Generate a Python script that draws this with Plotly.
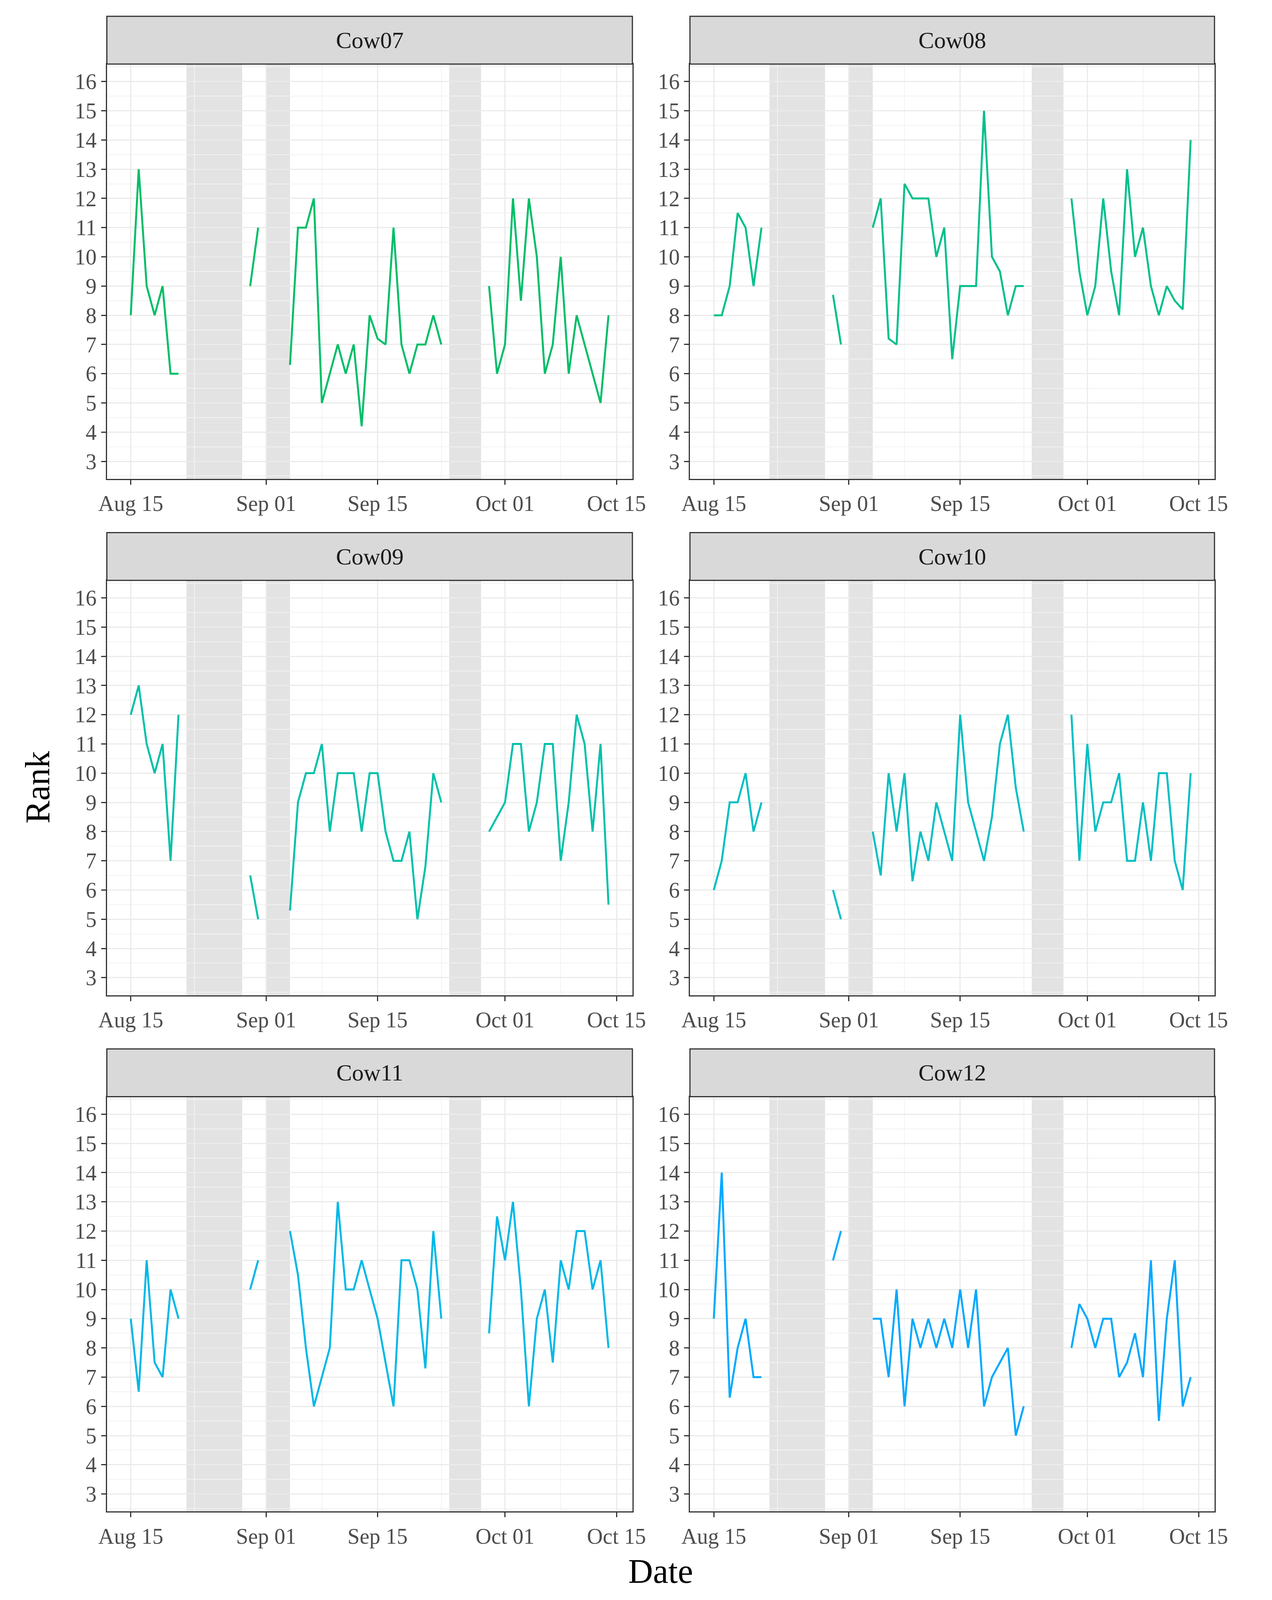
import plotly.graph_objects as go
import datetime as dt

cows = ["Cow07", "Cow08", "Cow09", "Cow10", "Cow11", "Cow12"]
colors = ["#00BE67", "#00C08B", "#00C1AA", "#00BFC4", "#00B8E7", "#00A9FF"]
start = dt.date(2021, 8, 15)
seg_days = [list(range(0, 7)), [15, 16], list(range(20, 40)), list(range(45, 61))]

cow07 = [[8, 13, 9, 8, 9, 6, 6], [9, 11],
         [6.3, 11, 11, 12, 5, 6, 7, 6, 7, 4.2, 8, 7.2, 7, 11, 7, 6, 7, 7, 8, 7],
         [9, 6, 7, 12, 8.5, 12, 10, 6, 7, 10, 6, 8, 7, 6, 5, 8]]
cow08 = [[8, 8, 9, 11.5, 11, 9, 11], [8.7, 7],
         [11, 12, 7.2, 7, 12.5, 12, 12, 12, 10, 11, 6.5, 9, 9, 9, 15, 10, 9.5, 8, 9, 9],
         [12, 9.5, 8, 9, 12, 9.5, 8, 13, 10, 11, 9, 8, 9, 8.5, 8.2, 14]]
cow09 = [[12, 13, 11, 10, 11, 7, 12], [6.5, 5],
         [5.3, 9, 10, 10, 11, 8, 10, 10, 10, 8, 10, 10, 8, 7, 7, 8, 5, 6.8, 10, 9],
         [8, 8.5, 9, 11, 11, 8, 9, 11, 11, 7, 9, 12, 11, 8, 11, 5.5]]
cow10 = [[6, 7, 9, 9, 10, 8, 9], [6, 5],
         [8, 6.5, 10, 8, 10, 6.3, 8, 7, 9, 8, 7, 12, 9, 8, 7, 8.5, 11, 12, 9.5, 8],
         [12, 7, 11, 8, 9, 9, 10, 7, 7, 9, 7, 10, 10, 7, 6, 10]]
cow11 = [[9, 6.5, 11, 7.5, 7, 10, 9], [10, 11],
         [12, 10.5, 8, 6, 7, 8, 13, 10, 10, 11, 10, 9, 7.5, 6, 11, 11, 10, 7.3, 12, 9],
         [8.5, 12.5, 11, 13, 10, 6, 9, 10, 7.5, 11, 10, 12, 12, 10, 11, 8]]
cow12 = [[9, 14, 6.3, 8, 9, 7, 7], [11, 12],
         [9, 9, 7, 10, 6, 9, 8, 9, 8, 9, 8, 10, 8, 10, 6, 7, 7.5, 8, 5, 6],
         [8, 9.5, 9, 8, 9, 9, 7, 7.5, 8.5, 7, 11, 5.5, 9, 11, 6, 7]]
values = [cow07, cow08, cow09, cow10, cow11, cow12]

shade_periods = [(7, 14), (17, 20), (40, 44)]
major_ticks = [0, 17, 31, 47, 61]
tick_labels = ["Aug 15", "Sep 01", "Sep 15", "Oct 01", "Oct 15"]
minor_ticks = [8, 24, 39, 54]

def d(n):
    return (start + dt.timedelta(days=n)).isoformat()

xdoms = [(0.0767, 0.5004), (0.5468, 0.9697)]
ydoms = [(0.7009, 0.9617), (0.3763, 0.6371), (0.0517, 0.3125)]
strip_tops = [0.9917, 0.6671, 0.3425]

fig = go.Figure()
shapes, annotations = [], []
FONT = "Liberation Serif"
for i, cow in enumerate(cows):
    r, c = divmod(i, 2)
    ax = "" if i == 0 else str(i + 1)
    xs, ys = [], []
    for days, vals in zip(seg_days, values[i]):
        xs += [d(k) for k in days] + [None]
        ys += vals + [None]
    fig.add_trace(go.Scatter(x=xs, y=ys, mode="lines", line=dict(color=colors[i], width=5),
                             xaxis="x" + ax, yaxis="y" + ax, showlegend=False, connectgaps=False))
    fig.layout["xaxis" + ax] = dict(
        domain=xdoms[c], anchor="y" + ax, type="date",
        range=[d(-3), d(63)], tickvals=[d(k) for k in major_ticks], ticktext=tick_labels,
        showgrid=True, gridcolor="#EBEBEB", gridwidth=3,
        minor=dict(tickvals=[d(k) for k in minor_ticks], showgrid=True, gridcolor="#F2F2F2", gridwidth=2, ticklen=0),
        ticks="outside", ticklen=12, tickwidth=3, tickcolor="#333333",
        tickfont=dict(family=FONT, size=56, color="#4D4D4D"),
        showline=True, mirror=True, linecolor="#333333", linewidth=3, zeroline=False)
    fig.layout["yaxis" + ax] = dict(
        domain=ydoms[r], anchor="x" + ax, range=[2.4, 16.6],
        tickvals=list(range(3, 17)), showgrid=True, gridcolor="#EBEBEB", gridwidth=3,
        minor=dict(tickvals=[k + 0.5 for k in range(2, 17)], showgrid=True, gridcolor="#F2F2F2", gridwidth=2, ticklen=0),
        ticks="outside", ticklen=12, tickwidth=3, tickcolor="#333333",
        tickfont=dict(family=FONT, size=56, color="#4D4D4D"),
        showline=True, mirror=True, linecolor="#333333", linewidth=3, zeroline=False)
    for a, b in shade_periods:
        shapes.append(dict(type="rect", xref="x" + ax, yref="y" + ax + " domain",
                           x0=d(a), x1=d(b), y0=0, y1=1, fillcolor="#E3E3E3",
                           line=dict(width=0), layer="below"))
    shapes.append(dict(type="rect", xref="paper", yref="paper", x0=xdoms[c][0], x1=xdoms[c][1],
                       y0=ydoms[r][1], y1=strip_tops[r], fillcolor="#D9D9D9",
                       line=dict(color="#333333", width=3)))
    annotations.append(dict(text=cow, xref="paper", yref="paper", showarrow=False,
                            x=sum(xdoms[c]) / 2, y=(ydoms[r][1] + strip_tops[r]) / 2,
                            xanchor="center", yanchor="middle",
                            font=dict(family=FONT, size=60, color="#1A1A1A")))

annotations.append(dict(text="Rank", xref="paper", yref="paper", x=0.021, y=0.507, textangle=-90,
                        xanchor="center", yanchor="middle",
                        showarrow=False, font=dict(family=FONT, size=88, color="black")))
annotations.append(dict(text="Date", xref="paper", yref="paper", x=0.523, y=0.014,
                        xanchor="center", yanchor="middle",
                        showarrow=False, font=dict(family=FONT, size=88, color="black")))

fig.update_layout(autosize=True, margin=dict(l=0, r=0, t=0, b=0),
                  plot_bgcolor="white", paper_bgcolor="white",
                  shapes=shapes, annotations=annotations)
fig.write_html("out.html", default_width="calc(100vw - 24px)", default_height="calc(100vh - 24px)")
